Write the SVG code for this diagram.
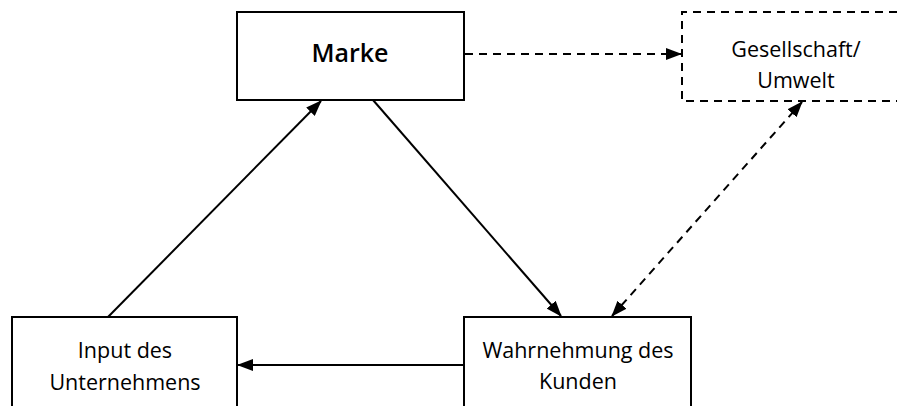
<svg xmlns="http://www.w3.org/2000/svg" width="897" height="406" viewBox="0 0 897 406">
<defs>
<marker id="ah" markerWidth="16" markerHeight="12" refX="15" refY="6" orient="auto-start-reverse" markerUnits="userSpaceOnUse" viewBox="0 0 16 12">
<path d="M0,0 L16,6 L0,12 z" fill="#000"/>
</marker>
<style>
.box{fill:#fff;stroke:#000;stroke-width:2}
.dbox{fill:#fff;stroke:#000;stroke-width:2;stroke-dasharray:8,6}
.t{font-family:"Open Sans","Noto Sans",sans-serif;font-size:21.5px;fill:#000;text-anchor:middle}
.tb{font-family:"Open Sans","Noto Sans",sans-serif;font-size:25px;font-weight:600;fill:#000;text-anchor:middle}
.c{fill:none;stroke:#000;stroke-width:2}
.cd{fill:none;stroke:#000;stroke-width:2;stroke-dasharray:8,6}
</style>
</defs>
<g id="connectors">
<line class="c" x1="108" y1="317" x2="321" y2="101" marker-end="url(#ah)"/>
<line class="c" x1="373" y1="100" x2="561" y2="316" marker-end="url(#ah)"/>
<line class="c" x1="464" y1="365" x2="238" y2="365" marker-end="url(#ah)"/>
<line class="cd" x1="465" y1="54" x2="681" y2="54" marker-end="url(#ah)"/>
<line class="cd" x1="612" y1="316" x2="802" y2="102" marker-start="url(#ah)" marker-end="url(#ah)"/>
</g>
<g id="marke">
<rect class="box" x="237" y="12" width="227" height="88"/>
<text class="tb" x="350" y="62">Marke</text>
</g>
<g id="gesellschaft">
<path class="dbox" d="M897,12 H682 V101 H897" />
<text class="t" x="796" y="57">Gesellschaft/</text>
<text class="t" x="796" y="88">Umwelt</text>
</g>
<g id="input">
<rect class="box" x="12" y="317" width="225" height="100"/>
<text class="t" x="125" y="358">Input des</text>
<text class="t" x="125" y="390">Unternehmens</text>
</g>
<g id="wahrnehmung">
<rect class="box" x="464" y="317" width="227" height="100"/>
<text class="t" x="578" y="358">Wahrnehmung des</text>
<text class="t" x="578" y="389">Kunden</text>
</g>
</svg>
